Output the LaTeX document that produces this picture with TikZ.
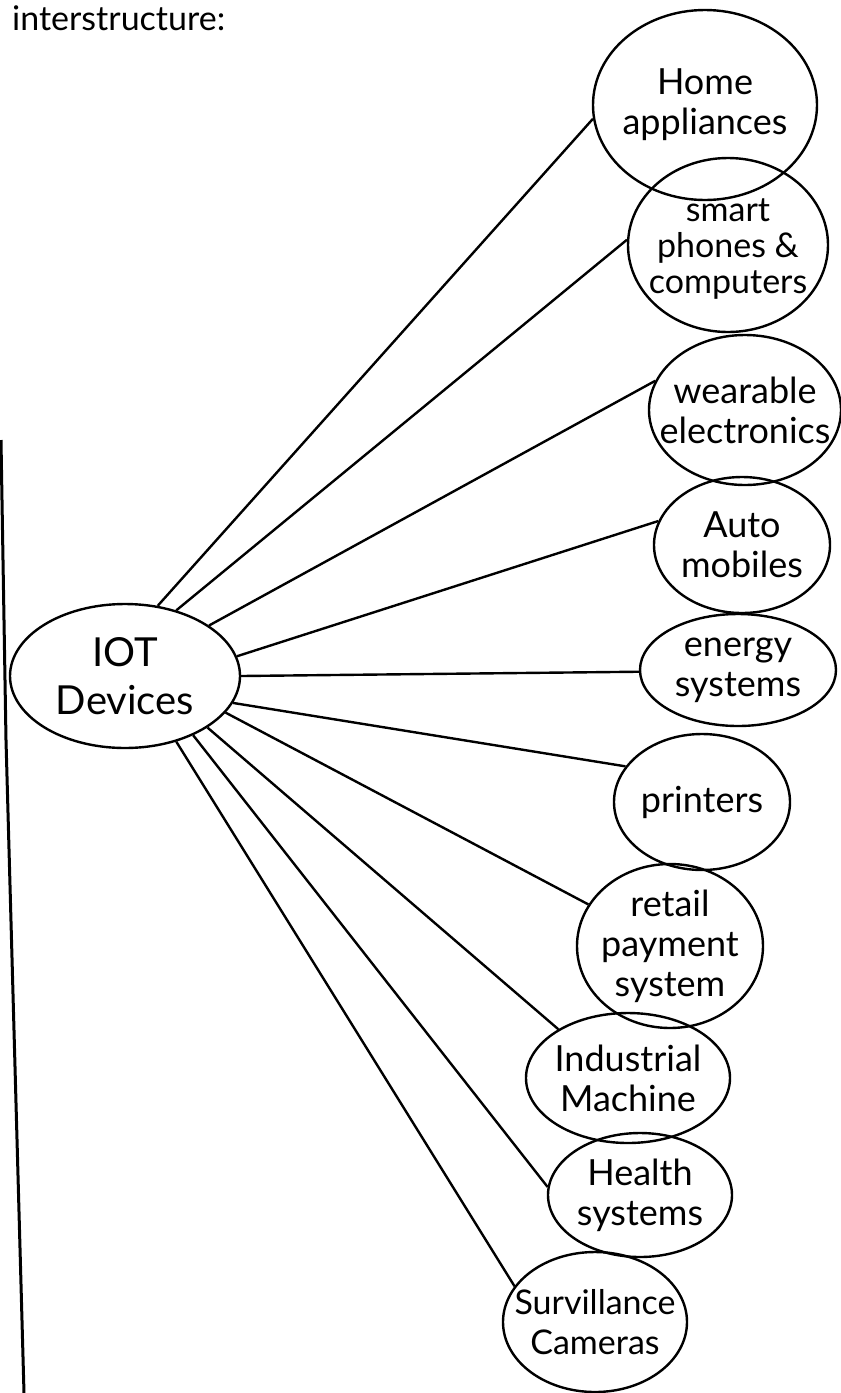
\documentclass[tikz,border=0pt]{standalone}
\usepackage{fontspec}
\setmainfont{Lato}
\usetikzlibrary{shapes.geometric}
\begin{document}
\begin{tikzpicture}[x=1pt,y=-1pt,
  item/.style 2 args={ellipse, draw, line width=2.4pt, inner sep=0pt,
    minimum width=#1pt, minimum height=#2pt},
  txt/.style={align=center, inner sep=0pt, font=\fontsize{36}{40}\selectfont},
  link/.style={line width=2.4pt},
  margin/.style={line width=3pt}]
\useasboundingbox (0,0) rectangle (841,1393);
\clip (0,0) rectangle (841,1393);

% heading at the top of the sheet
\node[anchor=base west, font=\fontsize{34}{34}\selectfont, inner sep=0pt] (head) at (12,30) {interstructure:};

% margin rule
\draw[margin] (1,440) -- (6,740) -- (24,1393);

% hub
\node[item={230}{144}, label={[txt, font=\fontsize{40}{48}\selectfont]center:{IOT\\Devices}}] (iot) at (125,676) {};

% devices
\node[item={224}{190}, label={[txt]center:{Home\\appliances}}] (home) at (705,105) {};
\node[item={200}{174}, label={[txt, font=\fontsize{34}{36}\selectfont, yshift=-4pt]center:{smart\\phones \&\\computers}}] (phone) at (728,245) {};
\node[item={192}{150}, label={[txt]center:{wearable\\electronics}}] (wear) at (745,410) {};
\node[item={176}{136}, label={[txt]center:{Auto\\mobiles}}] (auto) at (742,545) {};
\node[item={196}{112}, label={[txt]center:{energy\\systems}}] (energy) at (738,670) {};
\node[item={176}{136}, label={[txt]center:{printers}}] (print) at (702,802) {};
\node[item={186}{164}, label={[txt]center:{retail\\payment\\system}}] (retail) at (670,946) {};
\node[item={204}{130}, label={[txt]center:{Industrial\\Machine}}] (indus) at (628,1078) {};
\node[item={184}{124}, label={[txt]center:{Health\\systems}}] (health) at (640,1195) {};
\node[item={184}{140}, label={[txt, font=\fontsize{34}{40}\selectfont]center:{Survillance\\Cameras}}] (cam) at (595,1322) {};

% connections from the hub
\draw[link] (iot.65)  -- (home.187);
\draw[link] (iot.52)  -- (phone.177);
\draw[link] (iot.31)  -- (wear.162);
\draw[link] (iot.10)  -- (auto.164);
\draw[link] (iot.0)   -- (energy.181);
\draw[link] (iot.-14) -- (print.155);
\draw[link] (iot.-20) -- (retail.153);
\draw[link] (iot.-32) -- (indus.145);
\draw[link] (iot.-41) -- (health.175);
\draw[link] (iot.-52) -- (cam.156);
\end{tikzpicture}
\end{document}
